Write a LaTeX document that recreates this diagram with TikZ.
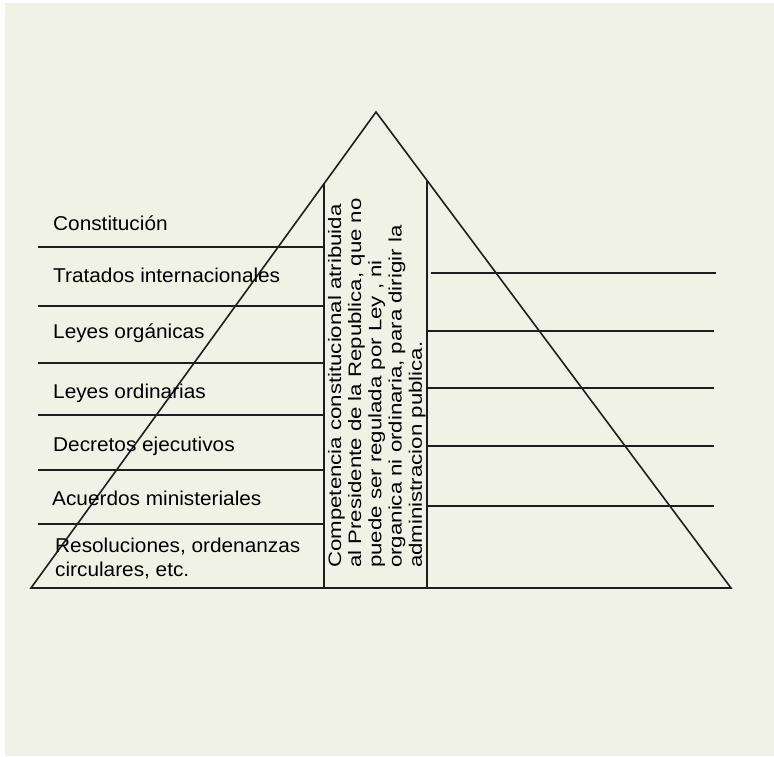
\documentclass[tikz,border=0pt]{standalone}
\usepackage{fontspec}
\setmainfont{Liberation Sans}
\newfontfamily\labfont[FakeStretch=1.04]{Liberation Sans}
\newfontfamily\vertfont[FakeStretch=1.235]{Liberation Sans}
\definecolor{bgcol}{RGB}{241,242,230}
\definecolor{inkcol}{RGB}{30,30,30}
\tikzset{
  edge/.style={draw=inkcol, line width=1.6pt},
  lab/.style={anchor=base west, inner sep=0pt, text=black, font=\labfont\fontsize{20}{24}\selectfont},
  vtext/.style={anchor=base west, inner sep=0pt, rotate=90, text=black, font=\vertfont\fontsize{18}{20}\selectfont}
}
\begin{document}
\begin{tikzpicture}[x=1pt,y=-1pt]
\useasboundingbox (0,0) rectangle (774,756);
\fill[white] (0,0) rectangle (774,756);
\fill[bgcol] (5,3) rectangle (774,756);

% triangle corners and central column
\coordinate (apex) at (376,112);
\coordinate (bl) at (31,588);
\coordinate (br) at (731,588);
\coordinate (lt) at (324,183.5);
\coordinate (lb) at (324,588);
\coordinate (rt) at (427,180.5);
\coordinate (rb) at (427,588);

\draw[edge] (bl) -- (apex) -- (br) -- cycle;
\draw[edge] (lt) -- (lb);
\draw[edge] (rt) -- (rb);

% left dividers
\foreach \y in {247,306,363,415,470,524}
  \draw[edge] (38,\y) -- (324,\y);

% right dividers
\draw[edge] (430.5,273) -- (716,273);
\foreach \y in {331,388,446,506}
  \draw[edge] (427,\y) -- (714,\y);

% left labels
\node[lab] (l1) at (53,230) {Constitución};
\node[lab] (l2) at (53,282) {Tratados internacionales};
\node[lab] (l3) at (53,338) {Leyes orgánicas};
\node[lab] (l4) at (53,398) {Leyes ordinarias};
\node[lab] (l5) at (53,451.5) {Decretos ejecutivos};
\node[lab] (l6) at (52,505) {Acuerdos ministeriales};
\node[lab] (l7a) at (55,552.5) {Resoluciones, ordenanzas};
\node[lab] (l7b) at (55,576.5) {circulares, etc.};

% vertical text in the central column
\node[vtext] (v1) at (341,568) {Competencia constitucional atribuida};
\node[vtext] (v2) at (361.2,568) {al Presidente de la Republica, que no};
\node[vtext] (v3) at (381.4,568) {puede ser regulada por Ley , ni};
\node[vtext] (v4) at (401.6,568) {organica ni ordinaria, para dirigir la};
\node[vtext] (v5) at (421.8,568) {administracion publica.};
\end{tikzpicture}
\end{document}
